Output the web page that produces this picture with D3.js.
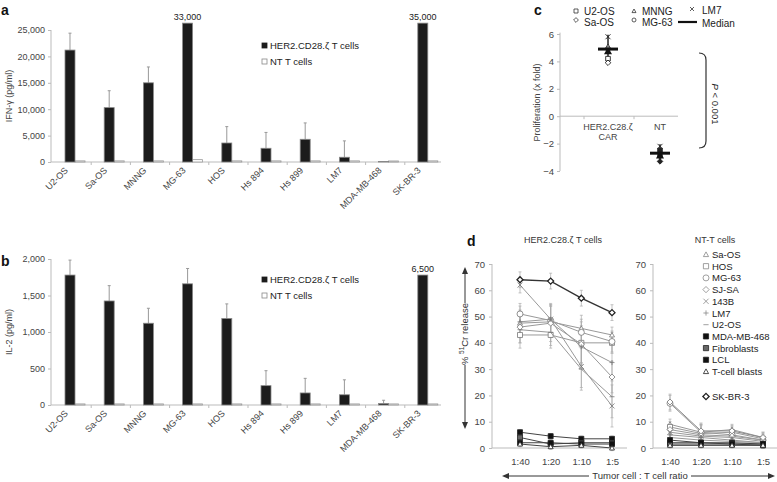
<!DOCTYPE html>
<html><head><meta charset="utf-8">
<script src="https://cdn.jsdelivr.net/npm/d3@7"></script>
<style>
body{margin:0;background:#fff;}
text{font-family:"Liberation Sans",Arial,sans-serif;}
</style></head>
<body>
<script>
// ---------------- DATA ----------------
const barCategories = ["U2-OS","Sa-OS","MNNG","MG-63","HOS","Hs 894","Hs 899","LM7","MDA-MB-468","SK-BR-3"];
const barSeries = ["HER2.CD28.ζ T cells","NT T cells"];
const ifnCAR    = [21200,10300,15000,33000,3600,2600,4300,900,100,35000];
const ifnCARErr = [3200,3200,3000,0,3100,3000,3100,3100,0,0];
const ifnNT     = [120,120,120,350,120,120,120,120,100,120];
const ifnTicks  = [0,5000,10000,15000,20000,25000];
const il2CAR    = [1780,1425,1120,1660,1185,265,165,140,20,6500];
const il2CARErr = [205,210,205,210,200,205,200,205,45,0];
const il2NT     = [8,8,8,8,8,8,8,8,8,8];
const il2Ticks  = [0,500,1000,1500,2000];

const prolifGroups = ["HER2.C28.ζ\nCAR","NT"];
const prolifLines  = ["U2-OS","Sa-OS","MNNG","MG-63","LM7"];
const prolifCAR    = [4.2,3.9,5.1,4.9,5.8];
const prolifNT     = [-2.5,-3.3,-2.7,-2.9,-2.2];
const prolifTicks  = [-4,-2,0,2,4,6];

const ratioLabels = ["1:40","1:20","1:10","1:5"];
const lysisTicks  = [0,10,20,30,40,50,60,70];
const lysisLines  = ["Sa-OS","HOS","MG-63","SJ-SA","143B","LM7","U2-OS","MDA-MB-468","Fibroblasts","LCL","T-cell blasts","SK-BR-3"];
const carLysis = [
  [47.5,48,45.5,43],[43,43,40,40],[51,48.5,44,40.5],[46,47.5,39.5,27],
  [62,49,31,16],[48,49,38.5,32.5],[45,44,30,19.5],
  [6,4.5,3.5,3.5],[4,1.5,2,2],[2,2,1.5,1.5],[1.5,0.5,1,0],
  [64,63.5,57,51.5]];
const carLysisErr = [
  [5,6,5,3],[5,5,8,4],[4,6,5,4],[6,7,7,6],[3,5,8,8],[6,6,7,7],[5,5,8,8],
  [1,1,1,1],[1,1,1,1],[1,1,1,1],[1,1,1,1],[3,3,3,3]];
const ntLysis = [
  [9,6,7,4],[8,5.5,6,3.5],[17,6,5,3],[7,5,4.5,3],[6,4.5,4,2.5],[5,4,3,2],[4,3,2.5,2],
  [2,2,2,1.5],[1.5,1.5,1.5,1],[3,2,1.5,1.5],[1,1,1,1],[17.5,6.5,6.5,4]];
const ntLysisErr = [
  [2,3,2,2],[2,3,2,2],[3,3,2,2],[2,2,2,2],[2,2,2,2],[2,2,2,2],[2,2,2,2],
  [1,1,1,1],[1,1,1,1],[1,1,1,1],[1,1,1,1],[3,3,2,2]];

// ---------------- HELPERS ----------------
const svg = d3.select("body").append("svg").attr("width",777).attr("height",482);
const AX = "#bbb", TXT = "#444";
function symPath(type, s){
  switch(type){
    case "triangle": return `M0,${-s}L${s},${s*0.8}L${-s},${s*0.8}Z`;
    case "square": return `M${-s},${-s}h${2*s}v${2*s}h${-2*s}Z`;
    case "circle": return `M${s},0A${s},${s} 0 1,1 ${-s},0A${s},${s} 0 1,1 ${s},0Z`;
    case "diamond": return `M0,${-s*1.2}L${s*1.2},0L0,${s*1.2}L${-s*1.2},0Z`;
    case "x": return `M${-s},${-s}L${s},${s}M${s},${-s}L${-s},${s}`;
    case "plus": return `M${-s},0L${s},0M0,${-s}L0,${s}`;
    case "minus": return `M${-s},0L${s},0`;
  }
}
function panelLabel(t,x,y){svg.append("text").attr("x",x).attr("y",y).attr("font-size",14).attr("font-weight","bold").attr("fill","#111").text(t);}

// ---------------- BAR PANELS ----------------
function barPanel(opts){
  const {car, carErr, nt, ticks, y0, y1, cap, yLabel, legendY} = opts;
  const x0 = d3.scaleBand().domain(barCategories).range([55,447]);
  const bw = x0.bandwidth();
  const x1 = d3.scaleBand().domain(barSeries).range([bw*0.255,bw*0.765]);
  const y = d3.scaleLinear().domain([0,ticks[ticks.length-1]]).range([y0,y1]);
  const g = svg.append("g");
  const ya = g.append("g").attr("transform","translate(51,0)").call(d3.axisLeft(y).tickValues(ticks).tickFormat(d3.format(",")).tickSize(3).tickPadding(3));
  ya.select(".domain").attr("stroke",AX).attr("d",`M0,${y0}V${y1}`);
  ya.selectAll(".tick line").attr("stroke",AX);
  ya.selectAll(".tick text").attr("fill",TXT).attr("font-size",9).attr("font-family","Liberation Sans, Arial");
  g.append("line").attr("x1",51).attr("x2",441).attr("y1",y0).attr("y2",y0).attr("stroke",AX);
  g.selectAll(".xt").data(barCategories.slice(1)).join("line")
    .attr("x1",d=>x0(d)-3).attr("x2",d=>x0(d)-3).attr("y1",y0).attr("y2",y0+3).attr("stroke",AX);
  const carVals = car.map((v,i)=>({c:barCategories[i],v,e:carErr[i]}));
  const ntVals = nt.map((v,i)=>({c:barCategories[i],v}));
  g.selectAll(".nt").data(ntVals).join("rect")
    .attr("x",d=>x0(d.c)+x1(barSeries[1])).attr("width",x1.bandwidth())
    .attr("y",d=>y(d.v)-0.5).attr("height",d=>y0-y(d.v)+0.5)
    .attr("fill","#fff").attr("stroke","#999").attr("stroke-width",0.8);
  g.selectAll(".err").data(carVals.filter(d=>d.e>0)).join("path")
    .attr("d",d=>{const cx=x0(d.c)+x1(barSeries[0])+x1.bandwidth()/2; const t=y(d.v+d.e);
      return `M${cx},${y(d.v)}V${t}M${cx-1.5},${t}H${cx+1.5}`;})
    .attr("stroke","#999").attr("stroke-width",1).attr("fill","none");
  g.selectAll(".car").data(carVals).join("rect")
    .attr("x",d=>x0(d.c)+x1(barSeries[0])).attr("width",x1.bandwidth())
    .attr("y",d=>y(Math.min(d.v,cap))).attr("height",d=>y0-y(Math.min(d.v,cap)))
    .attr("fill","#1c1c1c").attr("stroke","#888").attr("stroke-width",0.8);
  g.selectAll(".big").data(carVals.filter(d=>d.v>cap)).join("text")
    .attr("x",d=>x0(d.c)+x1(barSeries[0])+x1.bandwidth()/2).attr("y",d=>y(cap)-3)
    .attr("text-anchor","middle").attr("font-size",9).attr("fill","#222").text(d=>d3.format(",")(d.v));
  g.selectAll(".cl").data(barCategories).join("text")
    .attr("transform",d=>`translate(${x0(d)+bw/2-6},${y0+9}) rotate(-45)`)
    .attr("text-anchor","end").attr("font-size",9).attr("fill",TXT).text(d=>d);
  g.append("text").attr("transform",`translate(12,${(y0+y1)/2}) rotate(-90)`)
    .attr("text-anchor","middle").attr("font-size",9).attr("fill",TXT).text(yLabel);
  const lg = g.append("g").attr("transform",`translate(262,${legendY})`);
  barSeries.forEach((s,i)=>{
    lg.append("rect").attr("x",0).attr("y",i*16-6).attr("width",5).attr("height",5)
      .attr("fill",i===0?"#1c1c1c":"#fff").attr("stroke",i===0?"#1c1c1c":"#888").attr("stroke-width",0.8);
    lg.append("text").attr("x",8).attr("y",i*16).attr("font-size",9.5).attr("fill","#222").text(s);
  });
}
barPanel({car:ifnCAR,carErr:ifnCARErr,nt:ifnNT,ticks:ifnTicks,y0:162,y1:30,cap:26300,yLabel:"IFN-γ (pg/ml)",legendY:49});
barPanel({car:il2CAR,carErr:il2CARErr,nt:il2NT,ticks:il2Ticks,y0:405,y1:259,cap:1780,yLabel:"IL-2 (pg/ml)",legendY:283});
panelLabel("a",1,15);
panelLabel("b",1,266);

// ---------------- PANEL C ----------------
(function(){
  const y = d3.scaleLinear().domain([-4,6]).range([171,34]);
  const x = d3.scalePoint().domain(prolifGroups).range([608,660]);
  const g = svg.append("g");
  const ya = g.append("g").attr("transform","translate(560,0)").call(d3.axisLeft(y).tickValues(prolifTicks).tickSize(3).tickPadding(3));
  ya.select(".domain").attr("stroke",AX).attr("d",`M0,${y(-4)}V${y(6.1)}`);
  ya.selectAll(".tick line").attr("stroke",AX);
  ya.selectAll(".tick text").attr("fill",TXT).attr("font-size",9.5).attr("font-family","Liberation Sans, Arial");
  g.append("line").attr("x1",560).attr("x2",678).attr("y1",y(0)).attr("y2",y(0)).attr("stroke",AX);
  [584,634].forEach(v=>g.append("line").attr("x1",v).attr("x2",v).attr("y1",y(0)).attr("y2",y(0)+3).attr("stroke",AX));
  prolifGroups.forEach(gr=>{
    gr.split("\n").forEach((l,i)=>g.append("text").attr("x",x(gr)).attr("y",y(0)+14+i*10).attr("text-anchor","middle").attr("font-size",9).attr("fill",TXT).text(l));
  });
  g.append("text").attr("transform",`translate(540,${y(1)}) rotate(-90)`).attr("text-anchor","middle").attr("font-size",9).attr("fill",TXT).text("Proliferation (x fold)");
  const shapes = ["square","diamond","triangle","circle","x"];
  [[prolifGroups[0],prolifCAR],[prolifGroups[1],prolifNT]].forEach(([gr,vals])=>{
    const cx = x(gr);
    const med = d3.median(vals);
    g.append("line").attr("x1",cx).attr("x2",cx).attr("y1",y(d3.min(vals))).attr("y2",y(d3.max(vals))-2).attr("stroke","#222").attr("stroke-width",1.5);
    vals.forEach((v,i)=>{
      g.append("path").attr("d",symPath(shapes[i],shapes[i]==="x"?2.5:2.3)).attr("transform",`translate(${cx},${y(v)})`)
        .attr("fill",gr==="NT"?"#222":"#fff").attr("stroke","#222").attr("stroke-width",0.9);
    });
    g.append("path").attr("d",symPath("triangle",4)).attr("transform",`translate(${cx},${y(med)+2})`).attr("fill","#111");
    g.append("line").attr("x1",cx-10).attr("x2",cx+10).attr("y1",y(med)).attr("y2",y(med)).attr("stroke","#111").attr("stroke-width",3);
  });
  const legend = [["square","U2-OS",576,14],["diamond","Sa-OS",576,23],["triangle","MNNG",634,14],["circle","MG-63",634,23],["x","LM7",692,12]];
  legend.forEach(([s,t,lx,ly],i)=>{
    g.append("path").attr("d",symPath(s,2)).attr("transform",`translate(${lx},${ly-3})`).attr("fill","#fff").attr("stroke","#333").attr("stroke-width",0.8);
    g.append("text").attr("x",lx+(s==="x"?10:8)).attr("y",ly+(s==="x"?2:1)+ (i%2?2:0)).attr("font-size",10).attr("fill","#222").text(t);
  });
  g.append("line").attr("x1",678).attr("x2",697).attr("y1",22).attr("y2",22).attr("stroke","#111").attr("stroke-width",2.2);
  g.append("text").attr("x",702).attr("y",27).attr("font-size",10).attr("fill","#222").text("Median");
  g.append("path").attr("d","M699,53 Q706,53 706,60 V141 Q706,148 699,148").attr("fill","none").attr("stroke","#333").attr("stroke-width",1.2);
  const pt = g.append("text").attr("transform","translate(712,104) rotate(90)").attr("text-anchor","middle").attr("font-size",9.5).attr("fill","#222");
  pt.append("tspan").attr("font-style","italic").text("P");
  pt.append("tspan").text(" < 0.001");
})();
panelLabel("c",534,15);

// ---------------- PANEL D ----------------
const markerTypes = ["triangle","square","circle","diamond","x","plus","minus","square","square","square","triangle","diamond"];
function lysisPanel(axX, xr, vals, errs, title, titleX, skDark){
  const y = d3.scaleLinear().domain([0,70]).range([448,264]);
  const x = d3.scalePoint().domain(ratioLabels).range(xr);
  const g = svg.append("g");
  const ya = g.append("g").attr("transform",`translate(${axX},0)`).call(d3.axisLeft(y).tickValues(lysisTicks).tickSize(3).tickPadding(4));
  ya.select(".domain").attr("stroke",AX).attr("d",`M0,${y(0)}V${y(70)}`);
  ya.selectAll(".tick line").attr("stroke",AX);
  ya.selectAll(".tick text").attr("fill",TXT).attr("font-size",9.5).attr("font-family","Liberation Sans, Arial");
  const xa = g.append("g").attr("transform",`translate(0,${y(0)})`).call(d3.axisBottom(x).tickSize(0).tickPadding(10));
  xa.select(".domain").attr("stroke",AX).attr("d",`M${axX},0H${xr[1]+15}`);
  xa.selectAll(".tick text").attr("fill",TXT).attr("font-size",9.5).attr("font-family","Liberation Sans, Arial");
  g.append("text").attr("x",titleX).attr("y",243).attr("text-anchor","middle").attr("font-size",9).attr("fill","#333").text(title);
  const line = d3.line().x((d,i)=>x(ratioLabels[i])).y(d=>y(d));
  const isNeg = i => i>=7 && i<=10;
  vals.forEach((row,si)=>{
    row.forEach((v,i)=>{
      const cx = x(ratioLabels[i]), e = errs[si][i];
      g.append("path").attr("d",`M${cx},${y(v-e)}V${y(v+e)}M${cx-1.5},${y(v-e)}H${cx+1.5}M${cx-1.5},${y(v+e)}H${cx+1.5}`)
        .attr("stroke","#aaa").attr("stroke-width",0.7);
    });
  });
  vals.forEach((row,si)=>{
    const sk = si===11;
    const dark = isNeg(si) || (sk && skDark);
    g.append("path").datum(row).attr("d",line).attr("fill","none")
      .attr("stroke",sk?(skDark?"#333":"#888"):dark?"#444":"#999").attr("stroke-width",sk&&skDark?1.4:1);
    row.forEach((v,i)=>{
      const t = markerTypes[si];
      g.append("path").attr("d",symPath(t,t==="circle"?3:2.5)).attr("transform",`translate(${x(ratioLabels[i])},${y(v)})`)
        .attr("fill",si===7||si===9?"#111":si===8?"#666":"#fff")
        .attr("stroke",dark?"#222":"#777").attr("stroke-width",sk&&skDark?1.3:0.8);
    });
  });
}
lysisPanel(492,[520,612],carLysis,carLysisErr,"HER2.C28.ζ T cells",563,true);
lysisPanel(653,[670,763],ntLysis,ntLysisErr,"NT-T cells",715,false);
panelLabel("d",467,246);

(function(){
  const g = svg.append("g");
  const t = g.append("text").attr("transform","translate(468,334) rotate(-90)").attr("text-anchor","middle").attr("font-size",9.5).attr("fill","#333");
  t.append("tspan").text("% ");
  t.append("tspan").attr("font-size",6.5).attr("dy",-4).text("51");
  t.append("tspan").attr("dy",4).text("Cr release");
  g.append("line").attr("x1",465).attr("x2",465).attr("y1",272).attr("y2",303).attr("stroke","#333");
  g.append("line").attr("x1",465).attr("x2",465).attr("y1",365).attr("y2",424).attr("stroke","#333");
  g.append("path").attr("d","M465,267L462,274L468,274Z").attr("fill","#333");
  g.append("path").attr("d","M465,429L462,422L468,422Z").attr("fill","#333");
  g.append("text").attr("x",640).attr("y",479).attr("text-anchor","middle").attr("font-size",9.5).attr("fill","#333").text("Tumor cell : T cell ratio");
  g.append("line").attr("x1",507).attr("x2",589).attr("y1",476).attr("y2",476).attr("stroke","#333");
  g.append("line").attr("x1",691).attr("x2",770).attr("y1",476).attr("y2",476).attr("stroke","#333");
  g.append("path").attr("d","M502,476L509,473L509,479Z").attr("fill","#333");
  g.append("path").attr("d","M775,476L768,473L768,479Z").attr("fill","#333");
})();

(function(){
  const g = svg.append("g");
  lysisLines.forEach((name,i)=>{
    const ly = i<11 ? 258+i*11.7 : 400;
    const t = markerTypes[i];
    const dark = (i>=7 && i<=10) || i===11;
    g.append("path").attr("d",symPath(t,t==="circle"?3:2.6)).attr("transform",`translate(706,${ly-3.5})`)
      .attr("fill",i===7||i===9?"#111":i===8?"#666":"#fff").attr("stroke",dark?"#222":"#888").attr("stroke-width",i===11?1.3:0.8);
    g.append("text").attr("x",712).attr("y",ly).attr("font-size",9.5).attr("fill","#222").text(name);
  });
})();
</script>
</body></html>
